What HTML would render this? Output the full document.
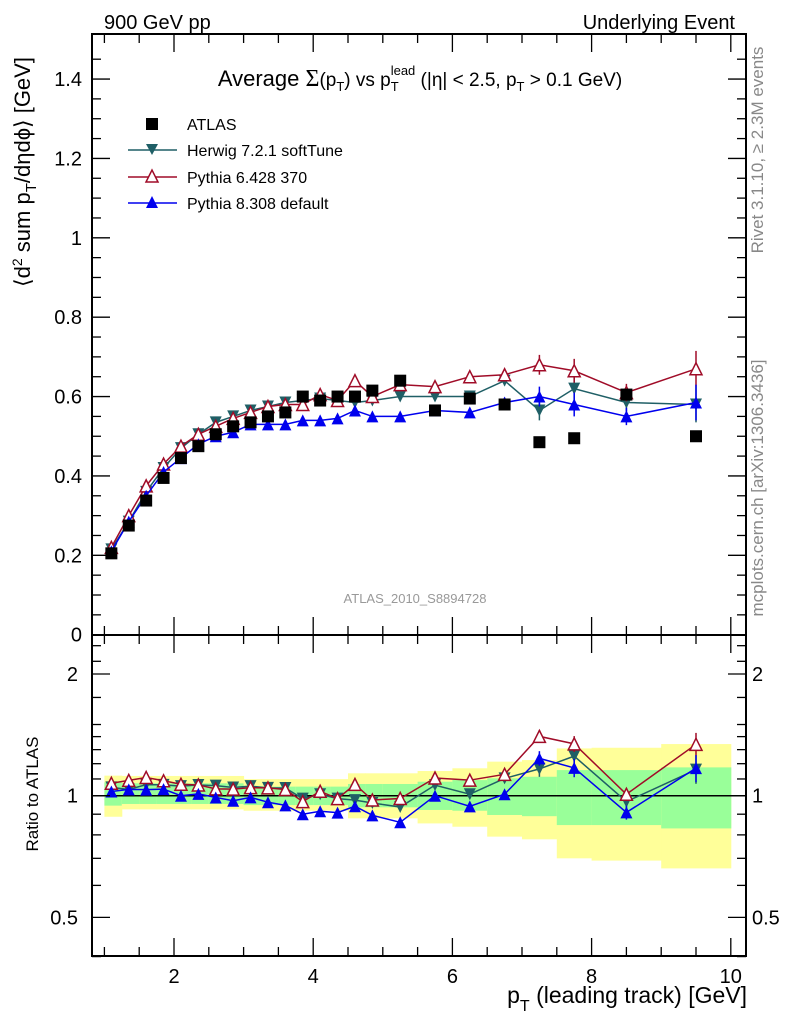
<!DOCTYPE html>
<html><head><meta charset="utf-8"><style>
body{margin:0;background:#fff;}
svg{display:block;font-family:"Liberation Sans",sans-serif;}
</style></head><body>
<svg id="c" width="786" height="1024" viewBox="0 0 786 1024" xmlns="http://www.w3.org/2000/svg">
<g id="bands"></g>
<g id="marks"></g>
<g id="axes"></g>
<text x="104" y="29" font-size="20">900 GeV pp</text>
<text x="735" y="29" font-size="20" text-anchor="end">Underlying Event</text>
<text x="420" y="86" font-size="22" text-anchor="middle">Average <tspan font-family="Liberation Serif" font-size="24">Σ</tspan><tspan font-size="19">(p</tspan><tspan font-size="13" dy="5">T</tspan><tspan font-size="19" dy="-5">)</tspan><tspan font-size="19"> vs p</tspan><tspan font-size="13" dy="5">T</tspan><tspan font-size="13" dx="-8" dy="-16">lead</tspan><tspan font-size="19" dy="11"> (|η| &lt; 2.5, p</tspan><tspan font-size="13" dy="5">T</tspan><tspan font-size="19" dy="-5"> &gt; 0.1 GeV)</tspan></text>
<g>
<rect x="146" y="118" width="12" height="12" fill="#000"/>
<text x="187" y="130" font-size="16">ATLAS</text>
<line x1="128" y1="150" x2="177" y2="150" stroke="#1f5f66" stroke-width="1.5"/>
<polygon points="146,144 158,144 152,155" fill="#1f5f66"/>
<text x="187" y="156" font-size="16">Herwig 7.2.1 softTune</text>
<line x1="128" y1="177" x2="177" y2="177" stroke="#a00c28" stroke-width="1.5"/>
<polygon points="146,182 158,182 152,170" fill="#fff" stroke="#a00c28" stroke-width="1.5"/>
<text x="187" y="183" font-size="16">Pythia 6.428 370</text>
<line x1="128" y1="203" x2="177" y2="203" stroke="#0000ee" stroke-width="1.5"/>
<polygon points="146,208 158,208 152,196" fill="#0000ee"/>
<text x="187" y="209" font-size="16">Pythia 8.308 default</text>
</g>
<text x="415" y="603" font-size="13" fill="#999" text-anchor="middle">ATLAS_2010_S8894728</text>
<text transform="translate(763,150) rotate(-90)" font-size="17" fill="#888" text-anchor="middle">Rivet 3.1.10, ≥ 2.3M events</text>
<text transform="translate(763,488) rotate(-90)" font-size="17" fill="#888" text-anchor="middle">mcplots.cern.ch [arXiv:1306.3436]</text>
<text transform="translate(30,172) rotate(-90)" font-size="22" text-anchor="middle">⟨d<tspan font-size="14" dy="-8">2</tspan><tspan dy="8"> sum p</tspan><tspan font-size="15" dy="6">T</tspan><tspan dy="-6">/dηdϕ⟩ [GeV]</tspan></text>
<text transform="translate(38,794) rotate(-90)" font-size="17" text-anchor="middle">Ratio to ATLAS</text>
<text x="747" y="1003" font-size="23" text-anchor="end">p<tspan font-size="16" dy="8">T</tspan><tspan dy="-8"> (leading track) [GeV]</tspan></text>
</svg>
<script>
const xCenters=[1.1,1.35,1.6,1.85,2.1,2.35,2.6,2.85,3.1,3.35,3.6,3.85,4.1,4.35,4.6,4.85,5.25,5.75,6.25,6.75,7.25,7.75,8.5,9.5];
const binLo=[1,1.25,1.5,1.75,2,2.25,2.5,2.75,3,3.25,3.5,3.75,4,4.25,4.5,4.75,5,5.5,6,6.5,7,7.5,8,9];
const binHi=[1.25,1.5,1.75,2,2.25,2.5,2.75,3,3.25,3.5,3.75,4,4.25,4.5,4.75,5,5.5,6,6.5,7,7.5,8,9,10];
const atlas=[0.205,0.275,0.338,0.395,0.445,0.475,0.505,0.525,0.535,0.55,0.56,0.60,0.59,0.60,0.60,0.615,0.64,0.565,0.595,0.58,0.485,0.495,0.605,0.50];
const herwig=[0.215,0.285,0.36,0.42,0.47,0.505,0.535,0.55,0.565,0.575,0.585,0.59,0.595,0.59,0.585,0.59,0.60,0.60,0.60,0.64,0.565,0.62,0.585,0.58];
const pythia6=[0.22,0.30,0.375,0.43,0.475,0.505,0.525,0.545,0.56,0.575,0.58,0.58,0.605,0.59,0.64,0.60,0.63,0.625,0.65,0.655,0.68,0.665,0.61,0.67];
const pythia8=[0.21,0.285,0.35,0.41,0.445,0.48,0.50,0.51,0.53,0.53,0.53,0.54,0.54,0.545,0.565,0.55,0.55,0.565,0.56,0.585,0.60,0.58,0.55,0.585];
const mcErr=[0.004,0.004,0.004,0.004,0.004,0.004,0.004,0.004,0.004,0.004,0.005,0.005,0.005,0.005,0.006,0.006,0.006,0.008,0.01,0.012,0.025,0.03,0.022,0.045];
const yelHi=[1.121,1.119,1.119,1.119,1.119,1.119,1.119,1.119,1.099,1.099,1.099,1.099,1.099,1.099,1.136,1.136,1.136,1.151,1.169,1.214,1.225,1.309,1.314,1.342];
const yelLo=[0.887,0.925,0.925,0.925,0.925,0.925,0.925,0.925,0.918,0.918,0.918,0.918,0.918,0.918,0.879,0.879,0.879,0.854,0.838,0.792,0.780,0.700,0.691,0.661];
const grnHi=[1.079,1.073,1.073,1.073,1.073,1.073,1.073,1.073,1.053,1.053,1.053,1.053,1.053,1.053,1.069,1.069,1.069,1.083,1.093,1.104,1.114,1.157,1.157,1.175];
const grnLo=[0.945,0.954,0.954,0.954,0.954,0.954,0.954,0.954,0.948,0.948,0.948,0.948,0.948,0.948,0.936,0.936,0.936,0.922,0.918,0.896,0.890,0.846,0.846,0.830];
const mainTicks=[0,0.2,0.4,0.6,0.8,1,1.2,1.4];
const xTicks=[2,4,6,8,10];
const ratioTicks=[0.5,1,2];

const NS='http://www.w3.org/2000/svg';
const L=92,R=746,T=34,MB=635,RB=956;
const X=v=>34.8+v*69.6;
const Y=v=>634.7-v*396.9;
const RY=v=>795.7-Math.log2(v)*121.7;
function mk(tag,attrs,parent){const e=document.createElementNS(NS,tag);for(const k in attrs)e.setAttribute(k,attrs[k]);parent.appendChild(e);return e;}
const bands=document.getElementById('bands'),marks=document.getElementById('marks'),axes=document.getElementById('axes');

for(let i=0;i<xCenters.length;i++){
  const y=mk('rect',{x:X(binLo[i]),y:RY(yelHi[i]),width:X(binHi[i])-X(binLo[i])+0.5,height:RY(yelLo[i])-RY(yelHi[i]),fill:'#ffff99'},bands);
  
  
  const g=mk('rect',{x:X(binLo[i]),y:RY(grnHi[i]),width:X(binHi[i])-X(binLo[i])+0.5,height:RY(grnLo[i])-RY(grnHi[i]),fill:'#99ff99'},bands);
  
  
}
const one=mk('line',{x1:L,x2:R,y1:RY(1),y2:RY(1),stroke:'#000','stroke-width':1.5},bands);



function marker(type,cx,cy,color,parent){
  const s=6;
  if(type==='down') return mk('polygon',{points:`${cx-s},${cy-s} ${cx+s},${cy-s} ${cx},${cy+s}`,fill:color},parent);
  if(type==='upo') return mk('polygon',{points:`${cx-s},${cy+s} ${cx+s},${cy+s} ${cx},${cy-s}`,fill:'#fff',stroke:color,'stroke-width':1.5},parent);
  if(type==='up') return mk('polygon',{points:`${cx-s},${cy+s} ${cx+s},${cy+s} ${cx},${cy-s}`,fill:color},parent);
  return mk('rect',{x:cx-6,y:cy-6,width:12,height:12,fill:color},parent);
}
const series=[[herwig,'#1f5f66','down','herwig'],[pythia6,'#a00c28','upo','pythia6'],[pythia8,'#0000ee','up','pythia8']];
for(const [vals,col,type,name] of series){
  const pts=xCenters.map((x,i)=>X(x)+','+Y(vals[i])).join(' ');
  const pl=mk('polyline',{points:pts,fill:'none',stroke:col,'stroke-width':1.5},marks);
  
  
  xCenters.forEach((x,i)=>{
    const e=mk('line',{x1:X(x),x2:X(x),y1:Y(vals[i]+mcErr[i]),y2:Y(vals[i]-mcErr[i]),stroke:col,'stroke-width':1.5},marks);
    
    
    const m=marker(type,X(x),Y(vals[i]),col,marks);
    
    
  });
}
xCenters.forEach((x,i)=>{
  const m=marker('sq',X(x),Y(atlas[i]),'#000',marks);
  
  
});
for(const [vals,col,type,name] of series){
  const pts=xCenters.map((x,i)=>X(x)+','+RY(vals[i]/atlas[i])).join(' ');
  const pl=mk('polyline',{points:pts,fill:'none',stroke:col,'stroke-width':1.5},marks);
  
  
  xCenters.forEach((x,i)=>{
    const r=vals[i]/atlas[i],er=mcErr[i]/atlas[i];
    const e=mk('line',{x1:X(x),x2:X(x),y1:RY(r+er),y2:RY(r-er),stroke:col,'stroke-width':1.5},marks);
    
    
    const m=marker(type,X(x),RY(r),col,marks);
    
    
  });
}
for(const [t,b,nm] of [[T,MB,'main-frame'],[MB,RB,'ratio-frame']]){
  const f=mk('rect',{x:L,y:t,width:R-L,height:b-t,fill:'none',stroke:'#000','stroke-width':2},axes);
  
  
}
for(let v=1;v<=10.001;v+=0.5){
  const maj=Math.abs(v-Math.round(v/2)*2)<1e-6;
  const len=maj?18:9;
  for(const [yy,dir] of [[T,1],[MB,-1],[MB,1],[RB,-1]]){
    mk('line',{x1:X(v),x2:X(v),y1:yy,y2:yy+dir*len,stroke:'#000','stroke-width':1.3},axes);
  }
}
xTicks.forEach(v=>{
  const t=mk('text',{x:X(v),y:983,'font-size':20,'text-anchor':'middle'},axes);
  t.textContent=v;
  
  
});
for(let v=0;v<=1.5;v+=0.05){
  const maj=Math.abs(v*5-Math.round(v*5))<1e-6;
  const len=maj?18:9;
  mk('line',{x1:L,x2:L+len,y1:Y(v),y2:Y(v),stroke:'#000','stroke-width':1.3},axes);
  mk('line',{x1:R,x2:R-len,y1:Y(v),y2:Y(v),stroke:'#000','stroke-width':1.3},axes);
}
mainTicks.forEach(v=>{
  const t=mk('text',{x:82,y:Y(v)+7,'font-size':20,'text-anchor':'end'},axes);
  t.textContent=String(v);
  
  
});
[0.4,0.6,0.7,0.8,0.9,1.1,1.2,1.3,1.4,1.5,1.75,2.15,2.35].forEach(v=>{
  mk('line',{x1:L,x2:L+9,y1:RY(v),y2:RY(v),stroke:'#000','stroke-width':1.3},axes);
  mk('line',{x1:R,x2:R-9,y1:RY(v),y2:RY(v),stroke:'#000','stroke-width':1.3},axes);
});
ratioTicks.forEach(v=>{
  mk('line',{x1:L,x2:L+18,y1:RY(v),y2:RY(v),stroke:'#000','stroke-width':1.3},axes);
  mk('line',{x1:R,x2:R-18,y1:RY(v),y2:RY(v),stroke:'#000','stroke-width':1.3},axes);
  const t=mk('text',{x:78,y:RY(v)+7,'font-size':20,'text-anchor':'end'},axes);
  t.textContent=String(v);
  
  
  const t2=mk('text',{x:752,y:RY(v)+7,'font-size':20},axes);
  t2.textContent=String(v);
  
  
});
</script>
</body></html>
